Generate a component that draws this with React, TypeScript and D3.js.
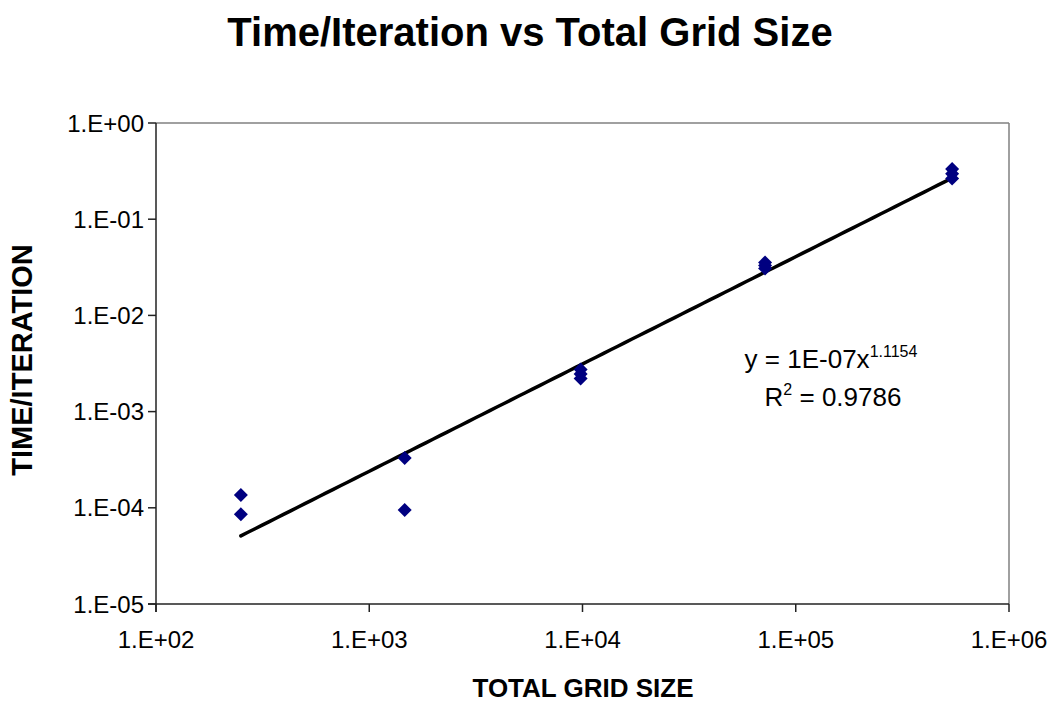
import React from "react";
import * as d3 from "d3";

const gridSizes = [250, 250, 1466, 1466, 9800, 9800, 9800, 71800, 71800, 71800, 541000, 541000, 541000];
const timePerIter = [1.36e-4, 8.55e-5, 3.3e-4, 9.5e-5, 2.74e-3, 2.46e-3, 2.21e-3, 3.55e-2, 3.3e-2, 3.08e-2, 0.333, 0.297, 0.265];
const xTicks = [1e2, 1e3, 1e4, 1e5, 1e6];
const yTicks = [1e-5, 1e-4, 1e-3, 1e-2, 1e-1, 1];
const trendCoef = 1.08e-7;
const trendExp = 1.1154;
const trendRange = [250, 541000];

const W = 1053;
const H = 703;
const M = { left: 156, right: 1009, top: 123, bottom: 604 };
const FONT = "'Liberation Sans', Arial, Helvetica, sans-serif";

function fmtExp(v: number): string {
  const e = Math.round(Math.log10(v));
  const sign = e < 0 ? "-" : "+";
  const a = Math.abs(e);
  return `1.E${sign}${a < 10 ? "0" + a : a}`;
}

export default function App() {
  const x = d3.scaleLog().domain([1e2, 1e6]).range([M.left, M.right]);
  const y = d3.scaleLog().domain([1e-5, 1]).range([M.bottom, M.top]);

  const trendPts: [number, number][] = d3
    .range(0, 101)
    .map((i) => {
      const lx = Math.log10(trendRange[0]) + (i / 100) * (Math.log10(trendRange[1]) - Math.log10(trendRange[0]));
      const xv = Math.pow(10, lx);
      return [xv, trendCoef * Math.pow(xv, trendExp)];
    });
  const line = d3
    .line<[number, number]>()
    .x((d) => x(d[0]))
    .y((d) => y(d[1]));

  const diamond = d3.symbol().type(d3.symbolDiamond2).size(125)();
  const points = gridSizes.map((g, i) => ({ g, t: timePerIter[i] }));

  return (
    <svg
      width={W}
      height={H}
      style={{ position: "absolute", left: 0, top: 0, display: "block", background: "#fff" }}
      fontFamily={FONT}
    >
      <rect x={0} y={0} width={W} height={H} fill="#fff" />
      <text x={530} y={46} textAnchor="middle" fontSize={40} fontWeight="bold" fill="#000">
        Time/Iteration vs Total Grid Size
      </text>

      {/* plot frame */}
      <line x1={M.left} x2={M.right} y1={M.top} y2={M.top} stroke="#808080" strokeWidth={1.5} />
      <line x1={M.right} x2={M.right} y1={M.top} y2={M.bottom} stroke="#808080" strokeWidth={1.5} />
      <line x1={M.left} x2={M.left} y1={M.top} y2={M.bottom + 8} stroke="#222" strokeWidth={1.5} />
      <line x1={M.left - 8} x2={M.right} y1={M.bottom} y2={M.bottom} stroke="#222" strokeWidth={1.5} />

      {yTicks.map((t) => (
        <g key={"y" + t}>
          <line x1={M.left - 8} x2={M.left} y1={y(t)} y2={y(t)} stroke="#222" strokeWidth={1.5} />
          <text x={M.left - 12} y={y(t)} dy="0.36em" textAnchor="end" fontSize={24} fill="#000">
            {fmtExp(t)}
          </text>
        </g>
      ))}
      {xTicks.map((t) => (
        <g key={"x" + t}>
          <line x1={x(t)} x2={x(t)} y1={M.bottom} y2={M.bottom + 8} stroke="#222" strokeWidth={1.5} />
          <text x={x(t)} y={648} textAnchor="middle" fontSize={24} fill="#000">
            {fmtExp(t)}
          </text>
        </g>
      ))}

      <path d={line(trendPts) || ""} fill="none" stroke="#000" strokeWidth={3.5} strokeLinecap="round" />

      {points.map((p, i) => (
        <path
          key={i}
          d={diamond || ""}
          transform={`translate(${x(p.g)},${y(p.t)})`}
          fill="#000080"
        />
      ))}

      <text x={831} y={368} textAnchor="middle" fontSize={26} fill="#000">
        y = 1E-07x<tspan fontSize={16} dy={-11}>1.1154</tspan>
      </text>
      <text x={833} y={406} textAnchor="middle" fontSize={26} fill="#000">
        R<tspan fontSize={16} dy={-11}>2</tspan>
        <tspan dy={11}> = 0.9786</tspan>
      </text>

      <text x={583} y={697} textAnchor="middle" fontSize={26} fontWeight="bold" fill="#000">
        TOTAL GRID SIZE
      </text>
      <text
        transform={`translate(32,360) rotate(-90)`}
        textAnchor="middle"
        fontSize={29}
        fontWeight="bold"
        fill="#000"
      >
        TIME/ITERATION
      </text>
    </svg>
  );
}
